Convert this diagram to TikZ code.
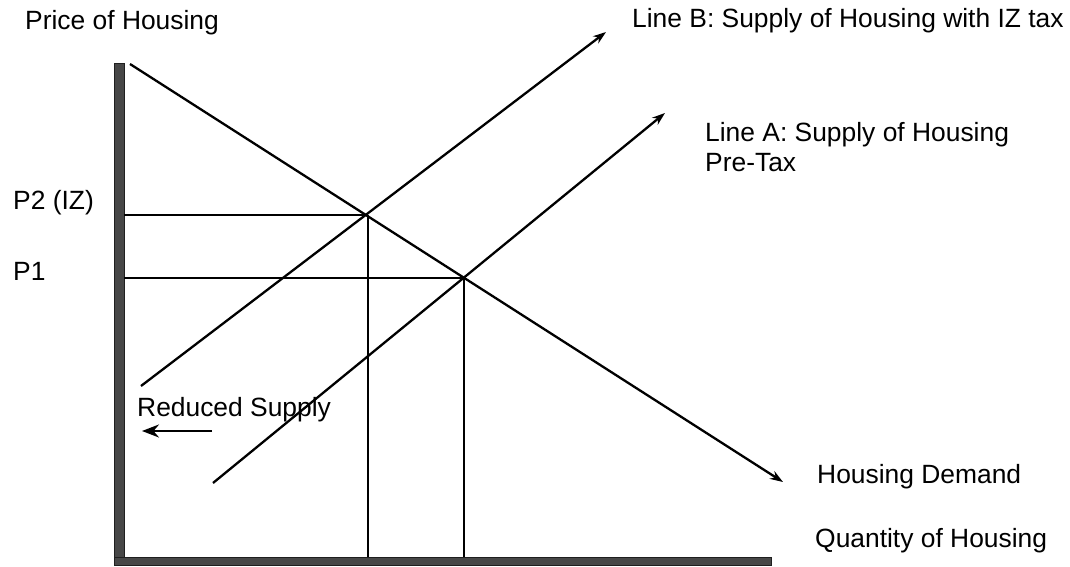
\documentclass[tikz,border=0pt]{standalone}
\usepackage{fontspec}
\setmainfont{Liberation Sans}
\usetikzlibrary{arrows.meta, positioning}

\tikzset{
  curve/.style={line width=2.3pt, -{Stealth[length=13pt,width=9pt]}},
  guide/.style={line width=1.8pt},
  axisbar/.style={fill=black!72, draw=black!88, line width=0.8pt},
  lbl/.style={font=\fontsize{26.4}{30}\selectfont, inner sep=0pt, anchor=west},
}

\begin{document}
\begin{tikzpicture}[x=1pt, y=-1pt]
    \useasboundingbox (0,0) rectangle (1070,567);

    % Ejes
    \draw[axisbar] (114,63) rectangle (124,565);
    \draw[axisbar] (114,557) rectangle (771,565);
    \coordinate (yAxisR) at (124,0);
    \coordinate (xAxisT) at (0,557);

    % Curvas de oferta y demanda
    \coordinate (dTop) at (130,64);
    \coordinate (dEnd) at (783,482);
    \coordinate (bStart) at (141,386);
    \coordinate (bEnd) at (606,32);
    \coordinate (aStart) at (213,483);
    \coordinate (aEnd) at (665,113);
    \draw[curve] (dTop) -- (dEnd);
    \draw[curve] (bStart) -- (bEnd);
    \draw[curve] (aStart) -- (aEnd);

    % Puntos de equilibrio y lineas guia
    \coordinate (eqB) at (intersection of dTop--dEnd and bStart--bEnd);
    \coordinate (eqA) at (intersection of dTop--dEnd and aStart--aEnd);
    \draw[guide] (eqB -| yAxisR) -- (eqB);
    \draw[guide] (eqA -| yAxisR) -- (eqA);
    \draw[guide] ([xshift=2pt]eqB) -- ([xshift=2pt]eqB |- xAxisT);
    \draw[guide] (eqA) -- (eqA |- xAxisT);

    % Desplazamiento de la oferta
    \coordinate (rsFrom) at (212,431);
    \coordinate (rsTo) at (142,431);
    \draw[line width=2.4pt, -{Stealth[length=17pt,width=13pt]}] (rsFrom) -- (rsTo);
    \node[lbl] (reduced) at (137,410) {Reduced Supply};

    % Etiquetas
    \node[lbl] (price) at (25,23) {Price of Housing};
    \node[lbl] (ptwo) at (13,203) {P2 (IZ)};
    \node[lbl] (pone) at (13,271) {P1};
    \node[lbl] (lineB) at (632,21) {Line B: Supply of Housing with IZ tax};
    \node[lbl, anchor=north west, align=left] (lineA) at (705,122) {Line A: Supply of Housing\\Pre-Tax};
    \node[lbl] (hdemand) at (817,477) {Housing Demand};
    \node[lbl] (qty) at (815,541) {Quantity of Housing};
\end{tikzpicture}
\end{document}
